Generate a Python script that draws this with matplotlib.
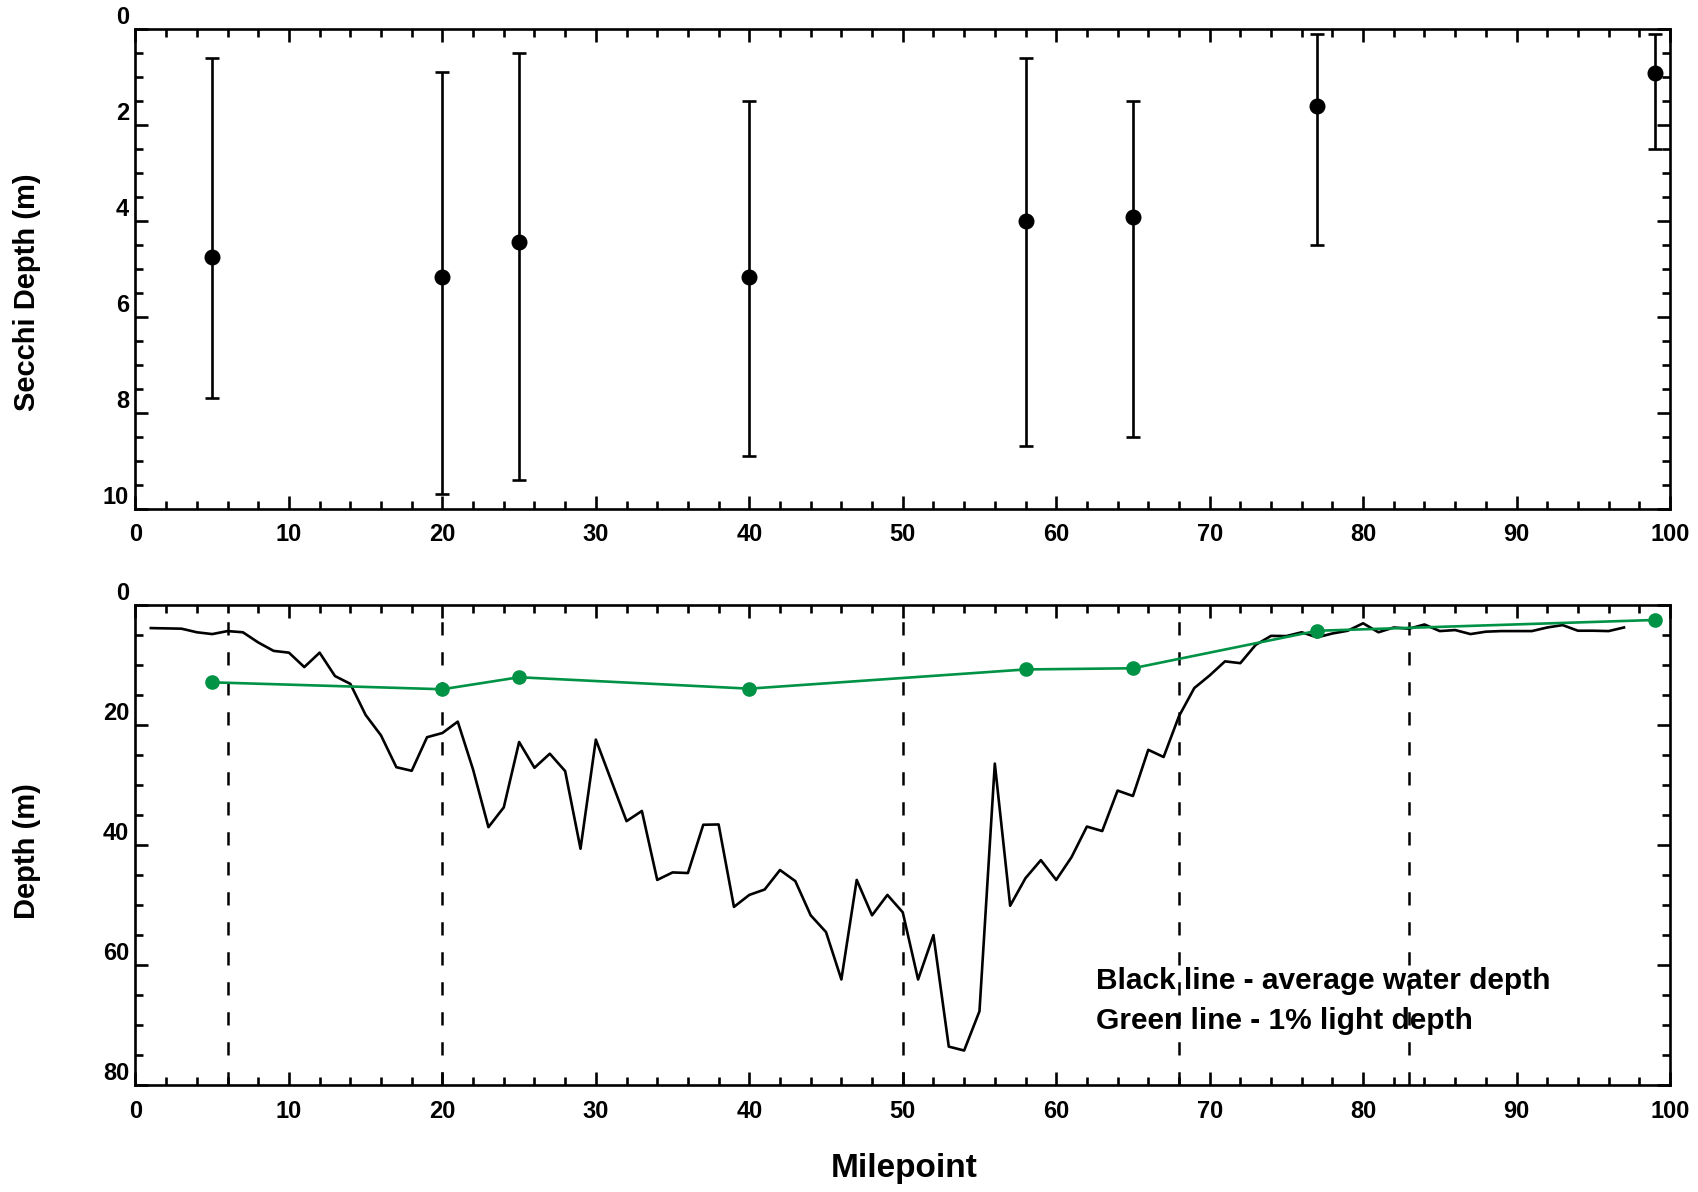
import matplotlib
matplotlib.use("Agg")
import matplotlib.pyplot as plt
from matplotlib.ticker import MultipleLocator

# Secchi depth survey stations (milepoint) with mean, minimum and maximum depth (m)
secchi_mile = [5, 20, 25, 40, 58, 65, 77, 99]
secchi_mean = [4.75, 5.17, 4.43, 5.17, 3.99, 3.92, 1.60, 0.92]
secchi_min = [0.60, 0.90, 0.50, 1.50, 0.60, 1.50, 0.10, 0.10]
secchi_max = [7.70, 9.70, 9.40, 8.90, 8.70, 8.50, 4.50, 2.50]

# 1% light depth (m) at the same stations
light_depth = [12.85, 14.0, 12.0, 13.9, 10.7, 10.5, 4.25, 2.45]

# Average water depth (m) along the river, milepoints 1-97
depth_mile = list(range(1, 98))
avg_depth = [
    3.8, 3.85, 3.9, 4.5, 4.8, 4.3, 4.5, 6.2, 7.6, 7.9,
    10.3, 7.9, 11.8, 13.1, 18.3, 21.7, 27.0, 27.6, 22.0, 21.3,
    19.4, 27.4, 37.0, 33.7, 22.8, 27.1, 24.75, 27.65, 40.6, 22.4,
    29.2, 36.0, 34.3, 45.8, 44.55, 44.65, 36.6, 36.55, 50.3, 48.3,
    47.4, 44.15, 46.0, 51.7, 54.5, 62.4, 45.8, 51.7, 48.3, 51.2,
    62.4, 55.0, 73.6, 74.25, 67.7, 26.4, 50.1, 45.5, 42.5, 45.8,
    42.0, 36.9, 37.65, 30.9, 31.8, 24.1, 25.3, 18.5, 13.8, 11.7,
    9.35, 9.65, 6.6, 5.1, 5.13, 4.5, 5.35, 4.7, 4.24, 3.0,
    4.5, 3.7, 3.9, 3.2, 4.3, 4.13, 4.8, 4.4, 4.3, 4.3,
    4.3, 3.7, 3.3, 4.24, 4.24, 4.3, 3.7,
]

# Reach boundaries (milepoints)
boundaries = [6, 20, 50, 68, 83]

x_ticks = [0, 10, 20, 30, 40, 50, 60, 70, 80, 90, 100]
secchi_ticks = [0, 2, 4, 6, 8, 10]
depth_ticks = [0, 20, 40, 60, 80]

FONT = "Liberation Sans"
GREEN = "#009245"
plt.rcParams["font.family"] = [FONT, "DejaVu Sans"]
plt.rcParams["font.weight"] = "bold"

fig = plt.figure(figsize=(16.99, 11.92), dpi=100)
ax1 = fig.add_axes([0.07975, 0.57332, 0.90318, 0.4021])
ax2 = fig.add_axes([0.07975, 0.08977, 0.90318, 0.40243])


def style_axes(ax, yticks, yminor):
    ax.set_xlim(0, 100)
    ax.set_ylim(yticks[-1], yticks[0])
    ax.set_xticks(x_ticks)
    ax.set_yticks(yticks)
    ax.xaxis.set_minor_locator(MultipleLocator(2))
    ax.yaxis.set_minor_locator(MultipleLocator(yminor))
    for sp in ax.spines.values():
        sp.set_linewidth(1.9)
    ax.tick_params(which="both", direction="in", top=True, right=True, width=1.9)
    ax.tick_params(which="major", length=9.5)
    ax.tick_params(which="minor", length=5.5)
    ax.tick_params(axis="x", which="major", pad=10.5, labelsize=17)
    ax.tick_params(axis="y", which="major", pad=4.5, labelsize=17)
    for lab in ax.get_xticklabels() + ax.get_yticklabels():
        lab.set_fontweight("bold")
    for lab in ax.get_yticklabels():
        lab.set_verticalalignment("bottom")


# Secchi depth panel
yerr = [[m - lo for m, lo in zip(secchi_mean, secchi_min)],
        [hi - m for m, hi in zip(secchi_mean, secchi_max)]]
ax1.errorbar(secchi_mile, secchi_mean, yerr=yerr, fmt="o", color="black",
             markersize=10.5, elinewidth=1.9, capsize=5, capthick=1.9, zorder=3)
style_axes(ax1, secchi_ticks, 0.5)

# Water depth and light depth panel
for b in boundaries:
    ax2.axvline(b, color="black", linewidth=1.8, linestyle=(0, (5.3, 6.7)), zorder=1)
ax2.plot(depth_mile, avg_depth, color="black", linewidth=1.9, zorder=2)
ax2.plot(secchi_mile, light_depth, color=GREEN, linewidth=1.9, marker="o",
         markersize=9.5, zorder=3)
style_axes(ax2, depth_ticks, 5)

ax2.text(62.6, 64.0, "Black line - average water depth", fontsize=21.5,
         fontweight="bold", ha="left", va="baseline", zorder=4)
ax2.text(62.6, 70.6, "Green line - 1% light depth", fontsize=21.5,
         fontweight="bold", ha="left", va="baseline", zorder=4)

fig.text(0.0159, 0.755, "Secchi Depth (m)", rotation=90, fontsize=21,
         fontweight="bold", ha="center", va="center")
fig.text(0.0159, 0.2864, "Depth (m)", rotation=90, fontsize=21,
         fontweight="bold", ha="center", va="center")
fig.text(0.532, 0.0193, "Milepoint", fontsize=24, fontweight="bold",
         ha="center", va="center")

fig.savefig("out.png", dpi=100)
